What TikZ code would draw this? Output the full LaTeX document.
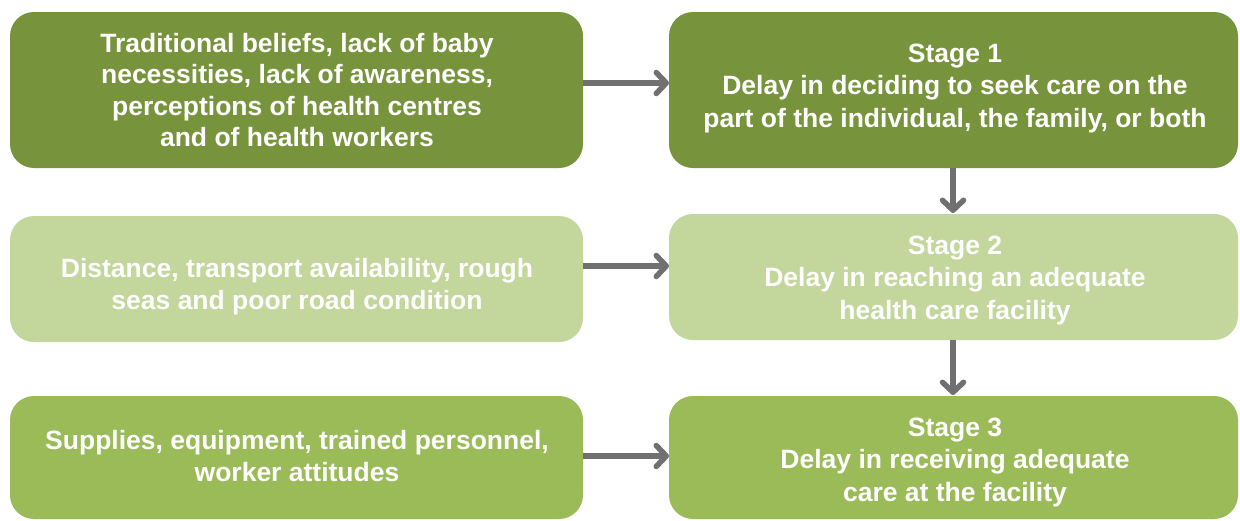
\documentclass[tikz,border=0pt]{standalone}
\usepackage{fontspec}
\setmainfont{Liberation Sans}
\usetikzlibrary{arrows.meta}
\definecolor{darkgreen}{HTML}{77933C}
\definecolor{lightgreen}{HTML}{C3D69B}
\definecolor{midgreen}{HTML}{9BBB59}
\definecolor{arrowgray}{HTML}{707070}
\begin{document}
\begin{tikzpicture}[x=1pt,y=-1pt,
  box/.style={rounded corners=24pt, text=white, align=center,
    font=\bfseries\fontsize{26.5}{31.5}\selectfont},
  stagebox/.style={box, font=\bfseries\fontsize{26.5}{32.5}\selectfont},
  flow/.style={draw=arrowgray, line width=5.5pt,
    -{Straight Barb[round,length=10pt,width=21pt]}}]
  \useasboundingbox (0,0) rectangle (1240,520);
  % factor boxes (left) and stage boxes (right)
  \fill[darkgreen, rounded corners=24pt] (10,12) rectangle (583,168);
  \fill[darkgreen, rounded corners=24pt] (669,12) rectangle (1238,168);
  \fill[lightgreen, rounded corners=24pt] (10,216) rectangle (583,342);
  \fill[lightgreen, rounded corners=24pt] (669,214) rectangle (1238,340);
  \fill[midgreen, rounded corners=24pt] (10,396) rectangle (583,519);
  \fill[midgreen, rounded corners=24pt] (669,396) rectangle (1238,519);

  \node[box] (f1) at (297,90) {Traditional beliefs, lack of baby\\necessities, lack of awareness,\\perceptions of health centres\\and of health workers};
  \node[stagebox] (s1) at (955,88) {Stage 1\\Delay in deciding to seek care on the\\part of the individual, the family, or both};
  \node[box] (f2) at (297,286.5) {Distance, transport availability, rough\\seas and poor road condition};
  \node[stagebox] (s2) at (955,280) {Stage 2\\Delay in reaching an adequate\\health care facility};
  \node[box] (f3) at (297,456) {Supplies, equipment, trained personnel,\\worker attitudes};
  \node[stagebox] (s3) at (955,462) {Stage 3\\Delay in receiving adequate\\care at the facility};

  % anchor points on the box edges
  \coordinate (f1e) at (583,83);  \coordinate (s1w) at (669,83);
  \coordinate (f2e) at (583,266); \coordinate (s2w) at (669,266);
  \coordinate (f3e) at (583,456); \coordinate (s3w) at (669,456);
  \coordinate (s1s) at (953,168); \coordinate (s2n) at (953,213);
  \coordinate (s2s) at (953,340); \coordinate (s3n) at (953,395);

  \draw[flow] (f1e) -- (s1w);
  \draw[flow] (f2e) -- (s2w);
  \draw[flow] (f3e) -- (s3w);
  \draw[flow] (s1s) -- (s2n);
  \draw[flow] (s2s) -- (s3n);
\end{tikzpicture}
\end{document}
